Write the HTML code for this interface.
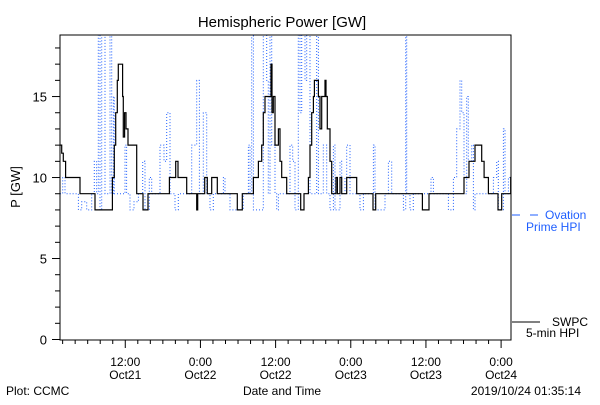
<!DOCTYPE html>
<html><head><meta charset="utf-8"><style>
body{margin:0;background:#fff;width:600px;height:400px;overflow:hidden}
svg{font-family:"Liberation Sans",sans-serif}
</style></head><body>
<svg id="chart" width="600" height="400" xmlns="http://www.w3.org/2000/svg">
<text x="282" y="27" font-size="15" text-anchor="middle">Hemispheric Power [GW]</text>
<text x="20" y="187" font-size="13" text-anchor="middle" transform="rotate(-90 20 187)">P [GW]</text>
<text x="6" y="395" font-size="12">Plot: CCMC</text>
<text x="282" y="395" font-size="12" text-anchor="middle">Date and Time</text>
<text x="581" y="395" font-size="12" text-anchor="end">2019/10/24 01:35:14</text>
<g>
<line x1="512" y1="215" x2="520" y2="215" stroke="#1f5fff"/>
<line x1="530" y1="215" x2="538" y2="215" stroke="#1f5fff"/>
<text x="545" y="219" font-size="12" fill="#1f5fff">Ovation</text>
<text x="526" y="231" font-size="12" fill="#1f5fff">Prime HPI</text>
</g>
<g>
<line x1="512" y1="322" x2="540" y2="322" stroke="#000"/>
<text x="552" y="326" font-size="12">SWPC</text>
<text x="526" y="337" font-size="12">5-min HPI</text>
</g>
<defs><clipPath id="pc"><rect x="60" y="35" width="451" height="305"/></clipPath></defs>
<g id="axes"></g>
<g id="series" clip-path="url(#pc)"></g>
<rect x="60" y="35" width="451" height="305" fill="none" stroke="#000"/>
</svg>
<script>
const swpcHours=[0,0.27,0.53,0.9,3.19,5.32,5.59,8.25,8.36,8.67,8.89,9.15,9.31,9.85,10.0,10.11,10.32,10.54,10.86,12.13,12.24,13.2,13.25,13.94,14.05,17.35,17.46,18.36,18.47,18.73,18.84,19.96,20.22,21.71,21.82,21.98,22.99,23.1,23.42,23.52,24.22,25.01,25.12,28.21,28.31,29.0,29.11,29.8,30.87,31.67,32.2,32.46,32.73,33.69,33.85,34.06,34.33,34.86,35.12,35.39,36.19,38.32,38.42,38.85,38.96,39.65,39.91,40.18,40.45,40.61,41.09,41.25,41.51,41.78,42.31,42.47,42.68,43.11,43.37,43.91,44.07,44.28,44.7,44.97,45.5,45.77,47.1,47.37,49.87,49.97,50.29,50.4,57.74,57.85,58.81,58.91,64.4,64.5,65.19,65.3,66.1,66.26,67.06,67.32,67.7,68.12,68.39,69.82,69.93,70.52,71.85,71.95,72.2];
const swpcValues=[12,11.5,11,10,9,9,8,8,10,12,14,16,17,17,15,12.5,14,13,12,12,9,9,8,8,9,9,10,10,11,11,10,10,9,9,8,9,9,10,10,9,10,10,9,9,8,8,9,9,10,11,12,14,15,17,14,15,12,13,11,10,9,9,8,8,9,10,12,14,15,16,16,15,13,15,16,15,13,11,9,9,10,9,10,9,9,10,10,9,9,8,8,9,9,8,8,9,9,10,10,11,11,12,12,11,10,10,9,9,8,9,9,10,10];
const ovationHours=[0,0.43,0.8,2.13,2.93,3.46,4.26,5.06,5.48,5.85,6.12,6.39,6.65,7.18,7.98,8.25,8.52,8.67,9.85,10.38,10.64,11.18,11.81,12.51,13.2,13.57,14.26,14.64,15.43,15.97,16.6,17.03,17.56,18.36,18.89,19.69,21.02,21.82,22.25,22.88,23.42,23.95,24.48,26.08,26.34,27.14,28.21,29.27,30.07,30.34,30.6,30.87,32.46,33.0,33.26,33.53,33.79,34.33,34.59,34.86,36.19,36.72,37.15,37.52,38.05,38.32,38.58,39.12,39.38,39.91,40.98,41.25,42.04,42.58,43.11,43.64,43.91,44.7,44.97,45.5,45.77,46.3,46.83,47.9,48.43,49.76,50.03,50.29,51.36,51.89,52.42,52.95,54.82,55.19,55.35,55.88,56.41,58.54,59.23,59.61,62.0,62.8,63.33,63.86,64.13,64.5,64.93,65.19,65.72,65.99,66.26,68.12,69.19,69.72,69.98,70.78,71.05,71.58,72.17];
const ovationValues=[9,10,9,9,8,8.5,8,9,11,9,19,8,19,9,19,9,15,9,9,12,9,8,8.5,9,11,8,10,9,9,12,11,14,9,8,9,9,12,16,9,14,9,8,9,10,9,8,8,9,12,9,19,8,19,16,9,19,12,9,8,9,9,12,11,8,19,14,19,16,19,9,19,9,12,9,8,12,8,11,9,10,12,9,9,8,9,9,12,8,8,9,11,9,8,19,9,8,9,9,10,9,8,10,13,16,14,9,15,11,12,8,9,9,10,11,8,13,9,10,11];
const yTicks=[0,5,10,15];
const xMajorHours=[10.42,22.42,34.42,46.42,58.42,70.42];
const xLabelTime=["12:00","0:00","12:00","0:00","12:00","0:00"];
const xLabelDate=["Oct21","Oct22","Oct22","Oct23","Oct23","Oct24"];
const X0=60,X1=511,Y0=339.5,HMAX=72,VMAX=18.8;
const xs=h=>X0+h*(X1-X0)/HMAX;
const ys=v=>Y0-v*(Y0-35)/VMAX;
const NS="http://www.w3.org/2000/svg";
const axes=document.getElementById('axes'),series=document.getElementById('series');
function mk(tag,at,parent){const e=document.createElementNS(NS,tag);for(const k in at)e.setAttribute(k,at[k]);parent.appendChild(e);return e;}
function stepPath(hs,vs){let d='M'+xs(hs[0]).toFixed(1)+','+ys(vs[0]).toFixed(1);for(let i=1;i<hs.length;i++){d+='H'+xs(hs[i]).toFixed(1)+'V'+ys(vs[i]).toFixed(1);}return d;}
for(let v=0;v<=18;v++){
  const major=yTicks.includes(v);
  const t=mk('line',{x1:major?52:55,x2:60,y1:ys(v),y2:ys(v),stroke:'#000'},axes);
  
  
}
yTicks.forEach(v=>{
  const t=mk('text',{x:47,y:ys(v)+5,'font-size':13,'text-anchor':'end'},axes);
  t.textContent=String(v);
  
  
});
for(let h=0.42;h<=72;h+=2){
  const major=xMajorHours.some(m=>Math.abs(m-h)<0.1);
  const t=mk('line',{x1:xs(h),x2:xs(h),y1:340,y2:major?348:344,stroke:'#000'},axes);
  
  
}
xMajorHours.forEach((h,i)=>{
  const a=mk('text',{x:xs(h),y:366,'font-size':12,'text-anchor':'middle'},axes);
  a.textContent=xLabelTime[i];
  
  
  const b=mk('text',{x:xs(h),y:379,'font-size':12,'text-anchor':'middle'},axes);
  b.textContent=xLabelDate[i];
  
  
});
const ov=mk('path',{d:stepPath(ovationHours,ovationValues),fill:'none',stroke:'#1f5fff','stroke-width':1,'stroke-dasharray':'1 2'},series);


const sw=mk('path',{d:stepPath(swpcHours,swpcValues),fill:'none',stroke:'#000','stroke-width':1.2},series);


</script>
</body></html>
